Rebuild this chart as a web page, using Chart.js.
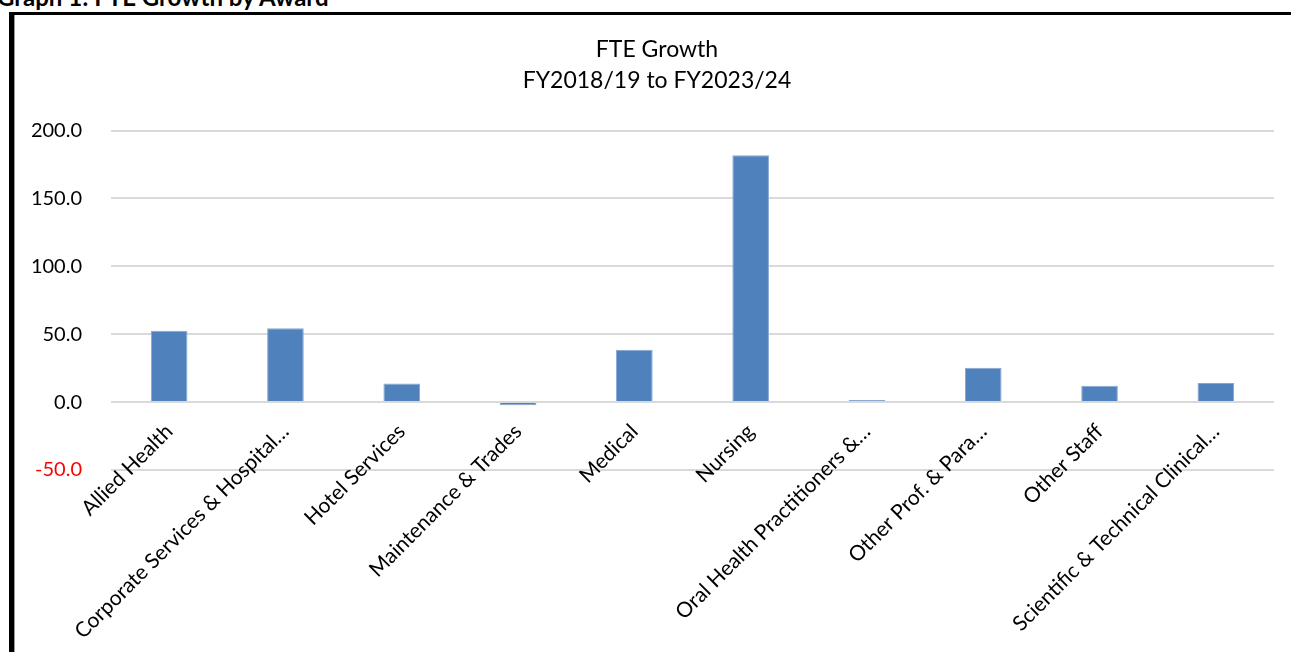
<!DOCTYPE html>
<html>
<head>
<meta charset="utf-8">
<script src="https://cdn.jsdelivr.net/npm/chart.js@4.4.1/dist/chart.umd.min.js"></script>
<style>
    html, body { margin: 0; padding: 0; background: #fff; overflow: hidden; }
    body { width: 1291px; height: 652px; position: relative; }
    .caption {
        position: absolute; left: -3px; top: -18px; line-height: 24px;
        font: bold 24px Lato, sans-serif; color: #000; white-space: nowrap;
    }
    .frame {
        position: absolute; left: 9px; top: 12px; width: 1400px; height: 800px;
        border-left: 5px solid #000; border-top: 3px solid #000;
        box-shadow: inset 1px 0 0 #9a9a9a;
    }
    .chart-box { position: absolute; left: 15px; top: 15px; width: 1284px; height: 637px; }
</style>
</head>
<body>
<div class="caption">Graph 1: FTE Growth by Award</div>
<div class="frame"></div>
<div class="chart-box"><canvas id="chartFteGrowth"></canvas></div>

<script>
// categorias (rótulos já cortados como aparecem no eixo)
const awards = [
    "Allied Health",
    "Corporate Services & Hospital…",
    "Hotel Services",
    "Maintenance & Trades",
    "Medical",
    "Nursing",
    "Oral Health Practitioners &…",
    "Other Prof. & Para…",
    "Other Staff",
    "Scientific & Technical Clinical…"
];
// crescimento de FTE entre FY2018/19 e FY2023/24
const fteGrowth = [52.6, 54.5, 13.8, -2.3, 38.6, 181.8, 1.6, 25.4, 12.1, 14.1];
const yTicks = [-50, 0, 50, 100, 150, 200];
const titleLines = ["FTE Growth", "FY2018/19 to FY2023/24"];

const FONT = "Lato, 'Open Sans', sans-serif";

document.addEventListener("DOMContentLoaded", () => {
    const el = document.getElementById("chartFteGrowth");

    new Chart(el, {
        type: "bar",
        data: {
            labels: awards,
            datasets: [{
                label: "FTE Growth",
                data: fteGrowth,
                backgroundColor: "#4F81BD",
                borderColor: "#86a6d2",
                borderWidth: 1,
                categoryPercentage: 1,
                barPercentage: 0.315
            }]
        },
        options: {
            responsive: true,
            maintainAspectRatio: false,
            animation: false,
            // espaço de baixo fica para os rótulos inclinados
            layout: { padding: { left: 0, right: 0, top: 0, bottom: 182 } },
            plugins: {
                legend: { display: false },
                tooltip: { enabled: false },
                title: {
                    display: true,
                    text: titleLines,
                    color: "#000",
                    font: { family: FONT, size: 23, weight: "normal", lineHeight: 1.35 },
                    padding: { top: 19.5, bottom: 34 }
                }
            },
            scales: {
                x: {
                    // eixo de categorias cruza no zero, como no Excel
                    position: { y: 0 },
                    grid: { display: false, drawTicks: false },
                    border: { display: false },
                    ticks: {
                        color: "#000",
                        font: { family: FONT, size: 21 },
                        autoSkip: false,
                        minRotation: 45,
                        maxRotation: 45,
                        padding: 17
                    }
                },
                y: {
                    min: -50,
                    max: 200,
                    afterBuildTicks: s => { s.ticks = yTicks.map(v => ({ value: v })); },
                    grid: { color: "#d9d9d9", lineWidth: 2, drawTicks: false },
                    border: { display: false },
                    ticks: {
                        padding: 29,
                        font: { family: FONT, size: 20 },
                        color: c => c.tick.value < 0 ? "#ff0000" : "#000",
                        callback: v => v.toFixed(1)
                    },
                    afterFit: s => { s.width = 96; }
                },
                // só reserva a margem da direita (o título fica centrado no canvas)
                yRight: {
                    position: "right",
                    grid: { display: false, drawTicks: false },
                    border: { display: false },
                    ticks: { display: false },
                    afterFit: s => { s.width = 25; }
                }
            }
        }
    });
});
</script>
</body>
</html>
